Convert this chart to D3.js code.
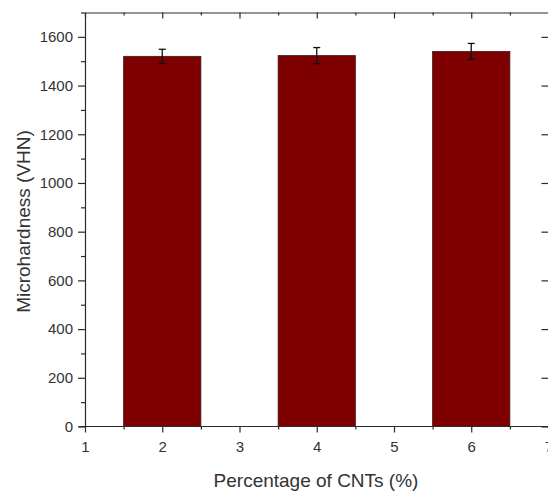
<!DOCTYPE html>
<html><head><meta charset="utf-8">
<script src="https://cdn.jsdelivr.net/npm/d3@7"></script>
<style>body{margin:0;background:#fff}svg{display:block}text{font-family:"Liberation Sans",Arial,sans-serif}</style>
</head><body><svg id="c" width="548" height="492"></svg>
<script>
const categories = [2, 4, 6];
const values = [1520, 1523, 1540];
const errors = [29, 33, 33];
const xTicks = [1, 2, 3, 4, 5, 6, 7];
const yTicks = [0, 200, 400, 600, 800, 1000, 1200, 1400, 1600];

const svg = d3.select("#c");
const m = {l: 85, r: 0, t: 12.5, b: 65.5};
const W = 548, H = 492;
const x = d3.scaleLinear().domain([1, 7]).range([m.l, 548.5]);
const y = d3.scaleLinear().domain([0, 1700]).range([H - m.b, m.t]);
const axisColor = "#2a2a2a", textColor = "#333";

// bars
const data = categories.map((c, i) => ({c, v: values[i], e: errors[i]}));
svg.append("g").selectAll("rect").data(data).join("rect")
  .attr("x", d => x(d.c - 0.5)).attr("width", d => x(d.c + 0.5) - x(d.c - 0.5))
  .attr("y", d => y(d.v)).attr("height", d => y(0) - y(d.v))
  .attr("fill", "#7f0000").attr("stroke", "#3a1a1a").attr("stroke-width", 0.8);

// error bars
const eg = svg.append("g").attr("stroke", "#111").attr("stroke-width", 1.3);
data.forEach(d => {
  const cx = x(d.c);
  eg.append("line").attr("x1", cx).attr("x2", cx).attr("y1", y(d.v + d.e)).attr("y2", y(d.v - d.e));
  eg.append("line").attr("x1", cx - 3.5).attr("x2", cx + 3.5).attr("y1", y(d.v + d.e)).attr("y2", y(d.v + d.e));
  eg.append("line").attr("x1", cx - 3.5).attr("x2", cx + 3.5).attr("y1", y(d.v - d.e)).attr("y2", y(d.v - d.e));
});

function styleAxis(g) {
  g.selectAll("path, line").attr("stroke", axisColor).attr("stroke-width", 1.2);
  g.selectAll("text").attr("fill", textColor).style("font-size", "15px");
}

// bottom axis
const xb = svg.append("g").attr("transform", `translate(0,${y(0)})`)
  .call(d3.axisBottom(x).tickValues(xTicks).tickFormat(d3.format("d")).tickSizeOuter(0).tickSize(6).tickPadding(9));
styleAxis(xb);
xb.select(".domain").attr("d", `M${m.l - 6},0H${548.5}`);
svg.append("g").attr("transform", `translate(0,${y(0)})`)
  .call(d3.axisBottom(x).tickValues(d3.range(1.5, 7, 1)).tickFormat("").tickSize(3).tickSizeOuter(0))
  .call(g => { g.select(".domain").remove(); styleAxis(g); });

// top axis
const xt = svg.append("g").attr("transform", `translate(0,${m.t})`)
  .call(d3.axisTop(x).tickValues(xTicks).tickFormat("").tickSize(-6).tickSizeOuter(0));
styleAxis(xt);
svg.append("g").attr("transform", `translate(0,${m.t})`)
  .call(d3.axisTop(x).tickValues(d3.range(1.5, 7, 1)).tickFormat("").tickSize(-3).tickSizeOuter(0))
  .call(g => { g.select(".domain").remove(); styleAxis(g); });

// left axis
const yl = svg.append("g").attr("transform", `translate(${m.l},0)`)
  .call(d3.axisLeft(y).tickValues(yTicks).tickFormat(d3.format("d")).tickSize(7).tickSizeOuter(0).tickPadding(5));
styleAxis(yl);
svg.append("g").attr("transform", `translate(${m.l},0)`)
  .call(d3.axisLeft(y).tickValues(d3.range(100, 1701, 200)).tickFormat("").tickSize(4).tickSizeOuter(0))
  .call(g => { g.select(".domain").remove(); styleAxis(g); });

// right axis
const yr = svg.append("g").attr("transform", `translate(${x(7)},0)`)
  .call(d3.axisRight(y).tickValues(yTicks).tickFormat("").tickSize(-7).tickSizeOuter(0));
styleAxis(yr);

// axis titles
svg.append("text").attr("x", 316).attr("y", 487).attr("text-anchor", "middle")
  .attr("fill", textColor).style("font-size", "19px").text("Percentage of CNTs (%)");
svg.append("text").attr("transform", `translate(30,${(y(0) + y(1700)) / 2 + 2}) rotate(-90)`)
  .attr("text-anchor", "middle").attr("fill", textColor).style("font-size", "19px").text("Microhardness (VHN)");
</script></body></html>
